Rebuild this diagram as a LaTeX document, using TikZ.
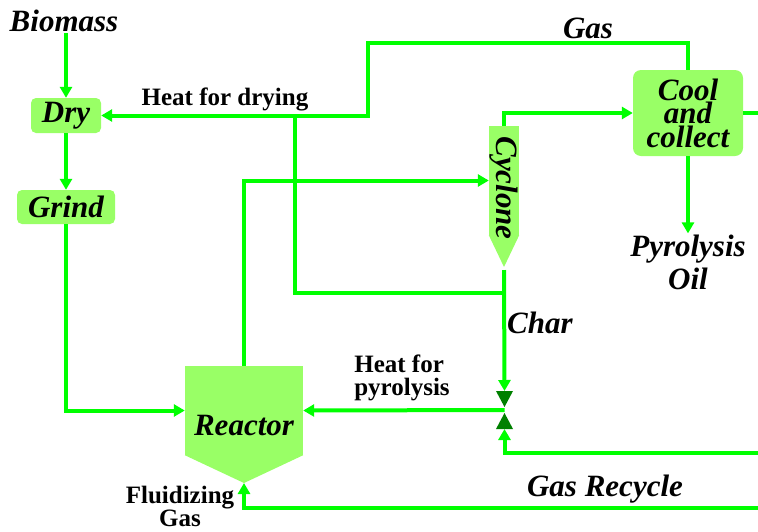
\documentclass[tikz,border=0pt]{standalone}
\usepackage{fontspec}
\setmainfont{Liberation Serif}
\usepackage{xcolor}
\usepackage{tikz}
\usetikzlibrary{arrows.meta, positioning}
\definecolor{flowgreen}{RGB}{0,255,0}
\definecolor{boxgreen}{RGB}{153,255,102}
\definecolor{valvegreen}{RGB}{0,128,0}

\begin{document}
\begin{tikzpicture}[x=1pt, y=-1pt,
    box/.style={fill=boxgreen, rounded corners=5pt, inner sep=0pt, align=center,
                font=\bfseries\itshape\fontsize{31}{23.5}\selectfont},
    tag/.style={inner sep=1pt, align=center, font=\bfseries\itshape\fontsize{31}{23.5}\selectfont},
    note/.style={inner sep=1pt, font=\bfseries\fontsize{25}{23}\selectfont},
    pipe/.style={draw=flowgreen, line width=4pt},
    flow/.style={pipe, -{Triangle[length=11pt,width=12pt]}}]
        \useasboundingbox (0,0) rectangle (758,531);
        \node[tag] (biomass) at (64,21) {Biomass};
        \node[box, minimum width=70pt, minimum height=35pt] (dry) at (66,115.5) {Dry};
        \node[box, minimum width=98pt, minimum height=34pt] (grind) at (66,207) {Grind};
        \node[box, rounded corners=8pt, minimum width=110pt, minimum height=86pt]
          (cool) at (688,113) {Cool\\and\\collect};
        \node[tag, font=\bfseries\itshape\fontsize{31}{33}\selectfont] (oil) at (688,262) {Pyrolysis\\Oil};
        \node[fill=boxgreen, inner sep=0pt, minimum width=118pt, minimum height=89pt]
          (reactor) at (244,410.5) {};
        \coordinate (rtip) at (244,483);
        \fill[boxgreen] (reactor.south west) -- (reactor.south east) -- (rtip) -- cycle;
        \node[tag] (reactorlbl) at ([yshift=-15pt]reactor.center) {Reactor};
        \node[fill=boxgreen, inner sep=0pt, minimum width=30pt, minimum height=109pt]
          (cyclone) at (504,180.5) {};
        \coordinate (cyctip) at (504,267);
        \fill[boxgreen] (cyclone.south west) -- (cyclone.south east) -- (cyctip) -- cycle;
        \node[tag, rotate=-90] (cyclonelbl) at (504,188) {Cyclone};
        \coordinate (valve) at (504.5,410);
        \fill[valvegreen] (valve) ++(-8.5,-19) -- ++(17,0) -- ++(-8.5,16) -- cycle;
        \fill[valvegreen] (valve) ++(-8.5,19) -- ++(17,0) -- ++(-8.5,-16) -- cycle;
        \coordinate (gasbend) at (368,43);
        \coordinate (dryjoin) at (295,116);
        \coordinate (charjoin) at (504,293);
        \coordinate (coolout) at (758,113);
        \coordinate (rec1) at (758,453);
        \coordinate (rec2) at (758,508);
        \draw[flow] (biomass.south -| dry.north) -- (dry.north);
        \draw[flow] (dry.south) -- (grind.north);
        \draw[flow] (grind.south) |- (reactor.west);
        \draw[flow] (reactor.north) |- (cyclone.west);
        \draw[flow] (cyclone.north) |- (cool.west);
        \draw[flow] (cool.north) |- (gasbend) -- (gasbend |- dry.east) -- (dry.east);
        \draw[pipe] (dryjoin) |- (charjoin);
        \draw[pipe] (cool.east) -- (coolout);
        \draw[flow] (cool.south) -- (oil.north);
        \draw[flow] ([yshift=-3pt]cyctip) -- ([yshift=19pt]valve);
        \draw[flow] (rec1) -| ([yshift=-19pt]valve);
        \draw[flow] (valve) -- (reactor.east);
        \draw[flow] (rec2) -| (rtip);
        \node[tag] (gaslbl) at (588,28) {Gas};
        \node[note] (dryheat) at (225,99) {Heat for drying};
        \node[tag, anchor=west] (charlbl) at (506,323) {Char};
        \node[note, align=left] (pyroheat) at (402,378) {Heat for\\pyrolysis};
        \node[tag] (recycle) at (605,489) {Gas Recycle};
        \node[note, align=center] (fluid) at (180,506) {Fluidizing\\Gas};
      \end{tikzpicture}
\end{document}
